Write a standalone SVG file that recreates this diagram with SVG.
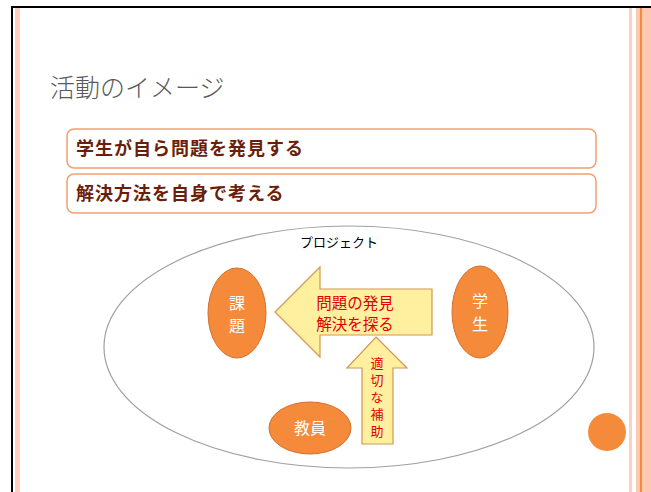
<svg xmlns="http://www.w3.org/2000/svg" width="651" height="492" viewBox="0 0 651 492">
<style>
.jp{font-family:"Noto Sans CJK JP","Noto Sans CJK SC",sans-serif;}
.box{fill:#fff;stroke:#f0a070;stroke-width:1.5;}
.boxt{font-size:18px;font-weight:bold;fill:#6b1e08;letter-spacing:1px;}
.org{fill:#f58a3a;stroke:#d07030;stroke-width:1;}
.wt{font-size:16px;fill:#fff;text-anchor:middle;}
.arr{fill:#fff0a0;stroke:#d09850;stroke-width:1.2;}
.rt{font-size:15.5px;fill:#e00000;text-anchor:middle;}
</style>
<rect width="651" height="492" fill="#fff"/>
<g id="frame">
<rect x="11" y="6" width="640" height="2" fill="#000"/>
<rect x="11" y="6" width="2" height="486" fill="#000"/>
<rect x="15" y="8" width="5" height="484" fill="#ffd0c0"/>
<rect x="629" y="8" width="3" height="484" fill="#ffd0c0"/>
<rect x="636" y="8" width="15" height="484" fill="#ffc8b0"/>
<rect x="640" y="8" width="2" height="484" fill="#f58a3a"/>
</g>
<g id="title"><text class="jp" x="50" y="97" font-size="25" fill="#595959" font-weight="300">活動のイメージ</text></g>
<g id="box1"><rect class="box" x="67" y="129" width="529" height="39" rx="7"/><text class="jp boxt" x="76" y="155">学生が自ら問題を発見する</text></g>
<g id="box2"><rect class="box" x="67" y="174" width="529" height="39" rx="7"/><text class="jp boxt" x="76" y="200">解決方法を自身で考える</text></g>
<g id="project"><ellipse cx="349" cy="347" rx="245" ry="121" fill="none" stroke="#a0a0a0" stroke-width="1.2"/><text class="jp" x="339" y="247" font-size="13" text-anchor="middle" fill="#000">プロジェクト</text></g>
<g id="connectors">
<g id="arrow-left"><polygon class="arr" points="275,312 320,267 320,289 432,289 432,335 320,335 320,357"/><text class="jp rt" x="355" y="309">問題の発見</text><text class="jp rt" x="355" y="330">解決を探る</text></g>
<g id="arrow-up"><polygon class="arr" points="376,337 407,368 393,368 393,444 362,444 362,368 347,368"/>
<text class="jp" x="377" y="357" font-size="13" fill="#e00000" writing-mode="vertical-rl" letter-spacing="4">適切な補助</text></g>
</g>
<g id="kadai"><ellipse class="org" cx="237" cy="313" rx="29" ry="45"/><text class="jp wt"><tspan x="237" y="309">課</tspan><tspan x="237" y="332">題</tspan></text></g>
<g id="gakusei"><ellipse class="org" cx="480" cy="312" rx="28" ry="46"/><text class="jp wt"><tspan x="480" y="307">学</tspan><tspan x="480" y="330">生</tspan></text></g>
<g id="kyoin"><ellipse class="org" cx="310" cy="428" rx="41" ry="26"/><text class="jp wt" x="310" y="434">教員</text></g>
<g id="dot"><circle cx="607" cy="432" r="19" fill="#f58a3a"/></g>
</svg>
